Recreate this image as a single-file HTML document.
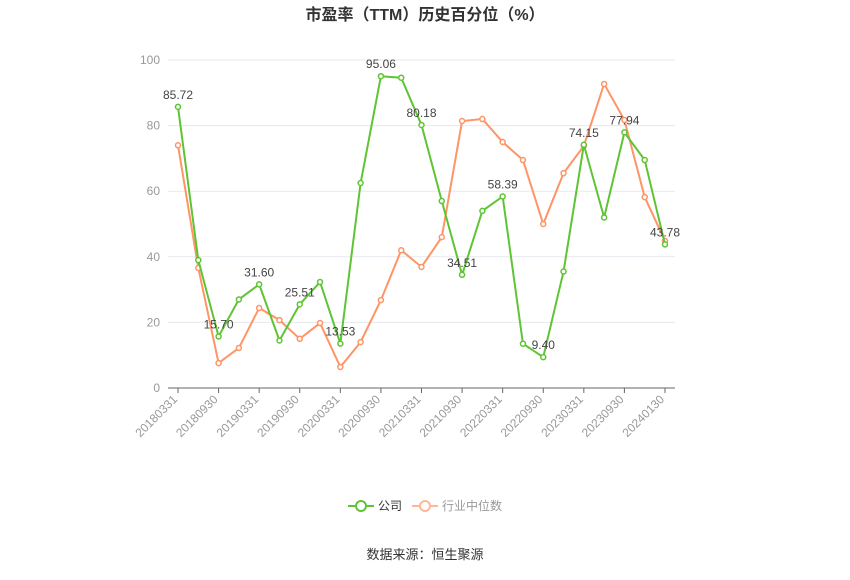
<!DOCTYPE html>
<html><head><meta charset="utf-8"><style>
body{margin:0;background:#fff;font-family:"Liberation Sans","Noto Sans CJK SC",sans-serif;}
svg text{font-family:"Liberation Sans","Noto Sans CJK SC",sans-serif;}
</style></head><body>
<svg id="c" width="850" height="575">
<text x="425" y="20" text-anchor="middle" font-size="16" font-weight="bold" fill="#333">市盈率（TTM）历史百分位（%）</text>
<g id="grid"></g><g id="marks"></g>
<g>
<line x1="348" y1="506" x2="374" y2="506" stroke="#5ec434" stroke-width="2"/>
<circle cx="361" cy="506" r="5" fill="#fff" stroke="#5ec434" stroke-width="2"/>
<text x="378" y="510" font-size="12" fill="#333">公司</text>
<line x1="412" y1="506" x2="438" y2="506" stroke="#ffb699" stroke-width="2"/>
<circle cx="425" cy="506" r="5" fill="#fff" stroke="#ffb699" stroke-width="2"/>
<text x="442" y="510" font-size="12" fill="#999">行业中位数</text>
</g>
<text x="425" y="559" text-anchor="middle" font-size="13" fill="#333">数据来源：恒生聚源</text>
</svg>
<script>
const categories=["20180331","20180630","20180930","20181231","20190331","20190630","20190930","20191231","20200331","20200630","20200930","20201231","20210331","20210630","20210930","20211231","20220331","20220630","20220930","20221231","20230331","20230630","20230930","20231231","20240130"];
const companyValues=[85.72,39,15.70,27,31.60,14.5,25.51,32.3,13.53,62.5,95.06,94.6,80.18,57,34.51,54,58.39,13.5,9.40,35.5,74.15,52,77.94,69.5,43.78];
const industryValues=[74,36.6,7.6,12.2,24.4,20.7,15,19.8,6.4,14,26.8,42,36.9,46,81.4,82,75,69.5,50,65.5,73.8,92.7,81.7,58.2,44.8];
const companyLabels={0:"85.72",2:"15.70",4:"31.60",6:"25.51",8:"13.53",10:"95.06",12:"80.18",14:"34.51",16:"58.39",18:"9.40",20:"74.15",22:"77.94",24:"43.78"};
const yTicks=[0,20,40,60,80,100];
const NS="http://www.w3.org/2000/svg";
const x0=178,x1=665,yTop=60,yBot=388,left=168,right=675;
const xs=i=>x0+(x1-x0)*i/(categories.length-1);
const ys=v=>yBot-(yBot-yTop)*v/100;
function mk(t,a,p){const e=document.createElementNS(NS,t);for(const k in a)e.setAttribute(k,a[k]);p.appendChild(e);return e;}
const g=document.getElementById('grid'),m=document.getElementById('marks');
yTicks.forEach(v=>{
 const l=mk('line',{x1:left,x2:right,y1:ys(v),y2:ys(v),stroke:v===0?'#666':'#e6e9ef'},g);
 
 
 const t=mk('text',{x:left-8,y:ys(v)+4,'text-anchor':'end','font-size':12,fill:'#999'},g);t.textContent=v;
 
 
});
categories.forEach((c,i)=>{
 if(i%2)return;
 const x=xs(i);
 mk('line',{x1:x,x2:x,y1:yBot,y2:yBot+5,stroke:'#666'},g);
 const t=mk('text',{x:x,y:yBot+12,'text-anchor':'end','font-size':12,fill:'#999',transform:`rotate(-45 ${x} ${yBot+12})`},g);t.textContent=c;
 
 
});
function series(vals,color,name){
 const p=mk('polyline',{points:vals.map((v,i)=>xs(i)+','+ys(v)).join(' '),fill:'none',stroke:color,'stroke-width':2},m);
 
 
 vals.forEach((v,i)=>{const c=mk('circle',{cx:xs(i),cy:ys(v),r:2.5,fill:'#fff',stroke:color,'stroke-width':1.5},m);
 
 });
}
series(industryValues,'#ff9466','industry');
series(companyValues,'#5ec434','company');
for(const i in companyLabels){
 const t=mk('text',{x:xs(+i),y:ys(companyValues[i])-8,'text-anchor':'middle','font-size':12,fill:'#444'},m);
 t.textContent=companyLabels[i];
 
 
}
</script>
</body></html>
